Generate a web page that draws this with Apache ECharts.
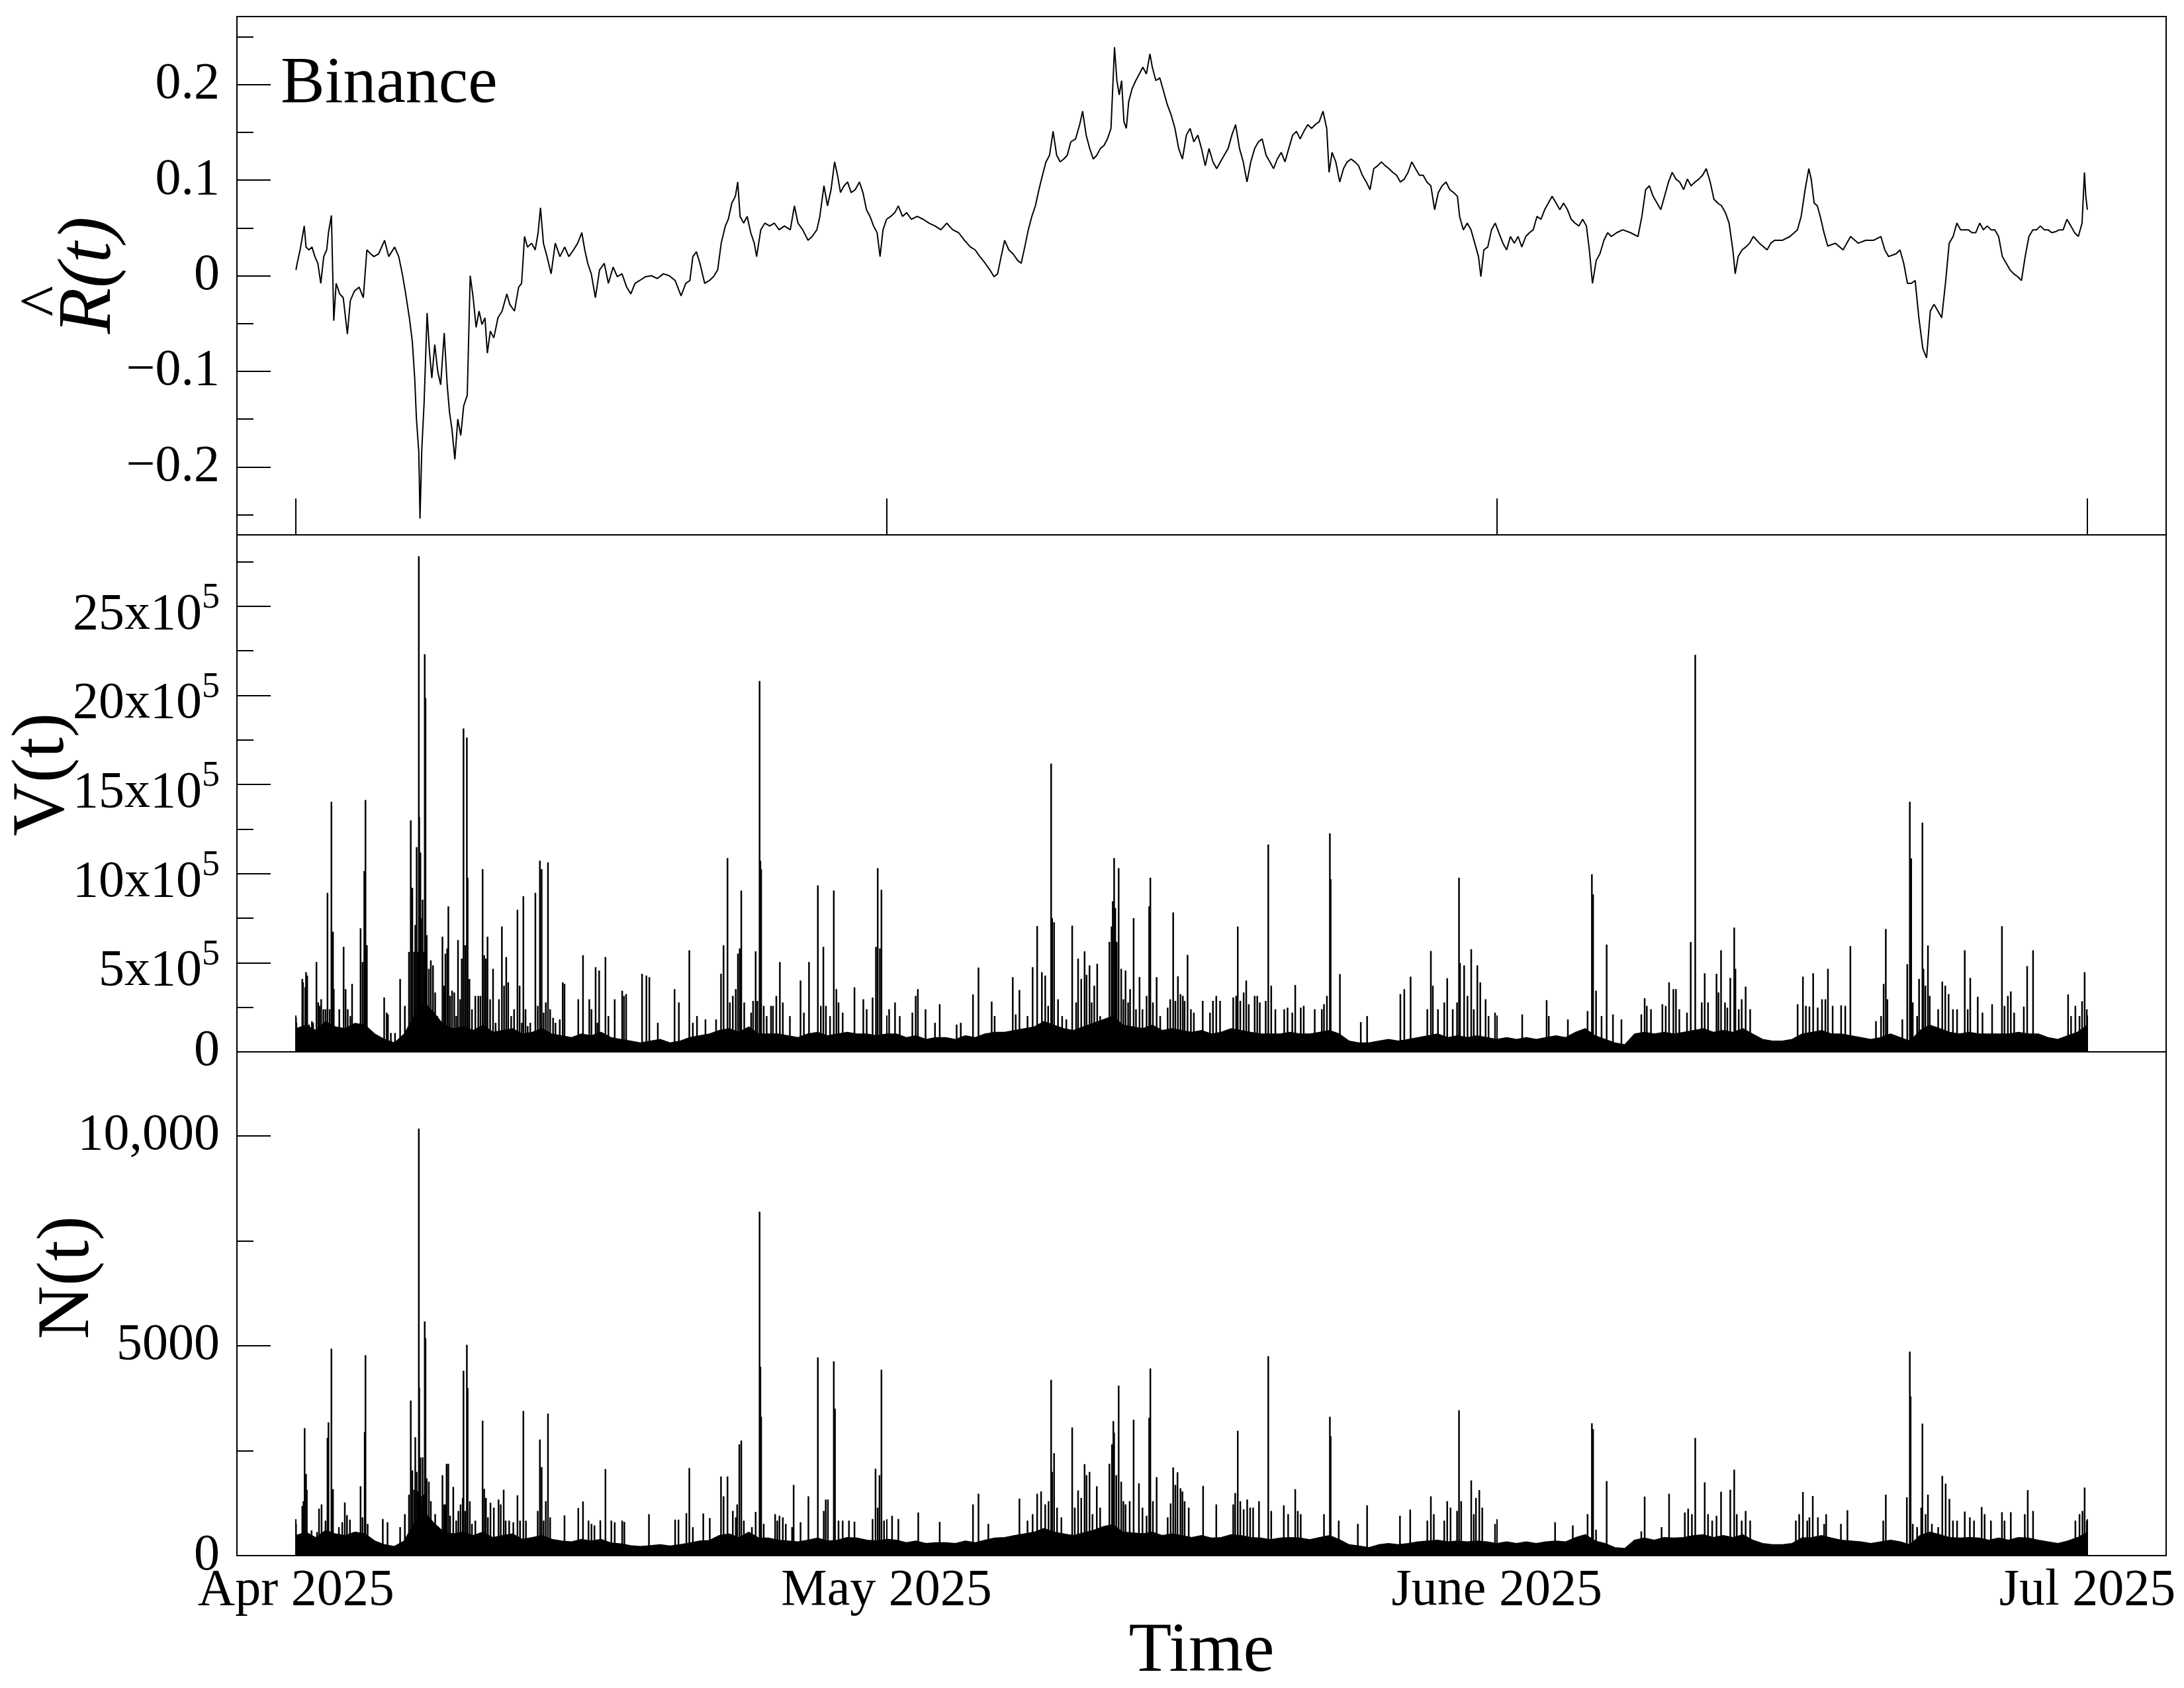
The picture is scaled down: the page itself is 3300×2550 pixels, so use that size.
<!DOCTYPE html>
<html>
<head>
<meta charset="utf-8">
<script src="https://cdn.jsdelivr.net/npm/echarts@6/dist/echarts.min.js"></script>
<style>
  html, body { margin: 0; padding: 0; background: #fff; }
  #chart { width: 3300px; height: 2550px; }
</style>
</head>
<body>
<div id="chart"></div>
<script>
// x values are days after 2025-04-01 00:00
const monthTicks = [0, 30, 61, 91];
const monthLabels = ['Apr 2025', 'May 2025', 'June 2025', 'Jul 2025'];

// R hat(t), [day, value]
const rPoints = [
[0.00,0.006],[0.06,0.013],[0.21,0.027],[0.42,0.052],[0.51,0.030],[0.66,0.027],[0.81,0.030],[0.96,0.020],[1.11,0.013],[1.26,-0.008],[1.41,0.020],[1.56,0.027],[1.65,0.045],[1.80,0.063],[1.92,-0.047],[2.04,-0.008],[2.22,-0.019],[2.40,-0.023],[2.61,-0.061],[2.76,-0.026],[2.97,-0.016],[3.21,-0.012],[3.42,-0.023],[3.60,0.027],[3.78,0.023],[3.96,0.020],[4.20,0.023],[4.50,0.037],[4.71,0.020],[5.01,0.030],[5.22,0.020],[5.40,0.002],[5.55,-0.016],[5.76,-0.044],[5.91,-0.069],[6.03,-0.107],[6.12,-0.150],[6.24,-0.185],[6.30,-0.254],[6.39,-0.182],[6.51,-0.132],[6.66,-0.039],[6.78,-0.079],[6.90,-0.107],[7.05,-0.072],[7.20,-0.100],[7.35,-0.114],[7.53,-0.060],[7.68,-0.114],[7.80,-0.143],[7.92,-0.160],[8.07,-0.192],[8.22,-0.150],[8.37,-0.167],[8.52,-0.136],[8.70,-0.125],[8.85,0.000],[9.00,-0.023],[9.15,-0.054],[9.30,-0.037],[9.45,-0.051],[9.60,-0.044],[9.72,-0.081],[9.87,-0.058],[10.05,-0.065],[10.26,-0.044],[10.47,-0.037],[10.71,-0.019],[10.86,-0.030],[11.10,-0.037],[11.31,-0.012],[11.46,-0.008],[11.61,0.041],[11.76,0.030],[11.97,0.034],[12.15,0.027],[12.30,0.045],[12.42,0.071],[12.57,0.034],[12.75,0.020],[12.96,0.002],[13.17,0.034],[13.41,0.020],[13.65,0.030],[13.86,0.020],[14.10,0.027],[14.31,0.034],[14.52,0.045],[14.67,0.027],[14.82,0.013],[15.00,0.002],[15.21,-0.023],[15.42,0.006],[15.66,0.013],[15.87,-0.008],[16.11,0.009],[16.32,-0.001],[16.56,0.002],[16.80,-0.012],[17.01,-0.019],[17.22,-0.008],[17.46,-0.005],[17.76,-0.001],[18.06,0.000],[18.36,-0.003],[18.66,0.002],[18.96,0.000],[19.26,-0.005],[19.56,-0.021],[19.80,-0.008],[20.01,-0.005],[20.16,0.020],[20.34,0.025],[20.52,0.013],[20.76,-0.008],[21.00,-0.005],[21.21,-0.001],[21.42,0.006],[21.60,0.034],[21.81,0.052],[21.96,0.059],[22.14,0.076],[22.32,0.083],[22.44,0.098],[22.56,0.062],[22.74,0.055],[22.92,0.062],[23.10,0.045],[23.28,0.034],[23.40,0.020],[23.61,0.048],[23.82,0.055],[24.06,0.052],[24.30,0.055],[24.54,0.048],[24.81,0.052],[25.11,0.048],[25.32,0.073],[25.50,0.055],[25.74,0.048],[26.01,0.037],[26.22,0.041],[26.46,0.048],[26.61,0.062],[26.82,0.094],[27.00,0.073],[27.18,0.090],[27.36,0.119],[27.51,0.105],[27.66,0.087],[27.84,0.094],[28.02,0.098],[28.20,0.087],[28.41,0.090],[28.62,0.098],[28.80,0.087],[28.98,0.069],[29.16,0.062],[29.34,0.052],[29.52,0.045],[29.67,0.020],[29.82,0.048],[30.00,0.059],[30.21,0.062],[30.42,0.066],[30.60,0.073],[30.81,0.062],[31.02,0.066],[31.26,0.059],[31.56,0.062],[31.86,0.059],[32.16,0.055],[32.46,0.052],[32.76,0.048],[33.06,0.055],[33.36,0.048],[33.66,0.045],[33.96,0.037],[34.26,0.030],[34.50,0.027],[34.74,0.020],[35.01,0.013],[35.25,0.006],[35.46,-0.001],[35.64,0.002],[35.82,0.020],[36.00,0.037],[36.21,0.027],[36.42,0.023],[36.66,0.016],[36.84,0.013],[37.02,0.030],[37.20,0.048],[37.38,0.062],[37.56,0.073],[37.74,0.090],[37.92,0.105],[38.10,0.119],[38.28,0.126],[38.46,0.151],[38.64,0.126],[38.82,0.119],[39.00,0.122],[39.18,0.126],[39.36,0.140],[39.60,0.143],[39.81,0.158],[39.96,0.172],[40.14,0.147],[40.32,0.133],[40.50,0.122],[40.68,0.126],[40.86,0.133],[41.04,0.136],[41.22,0.143],[41.40,0.154],[41.58,0.239],[41.70,0.204],[41.82,0.189],[41.94,0.204],[42.06,0.161],[42.18,0.154],[42.30,0.182],[42.48,0.196],[42.66,0.204],[42.84,0.211],[43.02,0.218],[43.20,0.211],[43.38,0.232],[43.50,0.218],[43.68,0.204],
[43.88,0.207],[44.07,0.193],[44.26,0.179],[44.46,0.168],[44.65,0.154],[44.84,0.133],[45.03,0.122],[45.23,0.147],[45.42,0.154],[45.61,0.140],[45.81,0.147],[46.00,0.133],[46.19,0.115],[46.38,0.133],[46.58,0.119],[46.77,0.112],[46.96,0.119],[47.35,0.133],[47.54,0.147],[47.73,0.158],[47.93,0.133],[48.12,0.119],[48.31,0.098],[48.50,0.119],[48.70,0.133],[48.89,0.140],[49.08,0.143],[49.28,0.126],[49.47,0.119],[49.66,0.112],[49.85,0.122],[50.05,0.129],[50.24,0.119],[50.43,0.133],[50.63,0.147],[50.82,0.151],[51.01,0.143],[51.20,0.151],[51.40,0.158],[51.59,0.154],[51.78,0.158],[51.98,0.161],[52.17,0.172],[52.36,0.154],[52.48,0.108],[52.63,0.129],[52.82,0.119],[53.02,0.098],[53.21,0.112],[53.40,0.119],[53.60,0.122],[53.79,0.119],[53.98,0.115],[54.17,0.105],[54.37,0.098],[54.56,0.090],[54.75,0.112],[54.95,0.115],[55.14,0.119],[55.33,0.115],[55.52,0.112],[55.72,0.108],[55.91,0.105],[56.10,0.098],[56.30,0.101],[56.49,0.108],[56.68,0.119],[56.87,0.112],[57.07,0.105],[57.26,0.105],[57.45,0.098],[57.65,0.094],[57.84,0.069],[58.03,0.087],[58.22,0.094],[58.42,0.098],[58.61,0.090],[58.80,0.087],[59.00,0.083],[59.11,0.062],[59.30,0.048],[59.50,0.055],[59.69,0.048],[59.88,0.034],[60.07,0.020],[60.19,-0.001],[60.34,0.027],[60.54,0.030],[60.73,0.048],[60.92,0.055],[61.12,0.044],[61.31,0.034],[61.50,0.027],[61.69,0.041],[61.89,0.034],[62.08,0.041],[62.27,0.030],[62.47,0.041],[62.66,0.045],[62.85,0.048],[63.04,0.062],[63.24,0.059],[63.43,0.069],[63.62,0.076],[63.81,0.083],[64.01,0.076],[64.20,0.069],[64.39,0.076],[64.59,0.069],[64.78,0.059],[64.97,0.055],[65.17,0.052],[65.36,0.059],[65.55,0.052],[65.70,0.027],[65.86,-0.008],[66.05,0.016],[66.24,0.023],[66.44,0.037],[66.63,0.045],[66.82,0.041],[67.09,0.045],[67.40,0.048],[67.79,0.045],[68.17,0.041],[68.37,0.062],[68.56,0.090],[68.75,0.094],[68.94,0.083],[69.14,0.076],[69.33,0.069],[69.52,0.083],[69.72,0.098],[69.91,0.108],[70.10,0.101],[70.29,0.098],[70.49,0.090],[70.68,0.101],[70.87,0.094],[71.07,0.098],[71.26,0.101],[71.45,0.105],[71.64,0.112],[71.84,0.098],[72.03,0.080],[72.22,0.076],[72.42,0.073],[72.61,0.066],[72.80,0.055],[72.99,0.027],[73.11,0.002],[73.26,0.020],[73.46,0.027],[73.65,0.030],[73.84,0.034],[74.03,0.041],[74.34,0.034],[74.73,0.027],[74.92,0.034],[75.11,0.037],[75.50,0.037],[75.89,0.041],[76.27,0.048],[76.46,0.062],[76.66,0.090],[76.85,0.112],[76.97,0.101],[77.12,0.076],[77.28,0.073],[77.43,0.062],[77.62,0.045],[77.81,0.031],[78.20,0.034],[78.59,0.027],[78.97,0.041],[79.36,0.034],[79.74,0.037],[80.13,0.037],[80.51,0.041],[80.71,0.027],[80.90,0.020],[81.29,0.023],[81.48,0.027],[81.67,0.013],[81.86,-0.008],[82.06,-0.008],[82.25,-0.005],[82.44,-0.044],[82.64,-0.076],[82.83,-0.086],[83.02,-0.037],[83.21,-0.030],[83.41,-0.037],[83.60,-0.044],[83.79,-0.008],[83.98,0.034],[84.18,0.041],[84.37,0.055],[84.56,0.048],[84.76,0.048],[84.95,0.048],[85.14,0.045],[85.33,0.045],[85.53,0.055],[85.72,0.048],[85.91,0.052],[86.11,0.048],[86.30,0.048],[86.49,0.041],[86.68,0.020],[86.88,0.013],[87.07,0.006],[87.26,0.002],[87.46,-0.001],[87.65,-0.005],[87.84,0.020],[88.03,0.041],[88.23,0.048],[88.42,0.048],[88.61,0.052],[88.81,0.048],[89.00,0.048],[89.19,0.045],[89.38,0.046],[89.58,0.048],[89.77,0.048],[89.96,0.059],[90.16,0.052],[90.35,0.045],[90.54,0.041],[90.73,0.055],[90.85,0.108],[90.92,0.083],[91.00,0.069]
];

// V(t) in units of 10^5: dense floor every 12 h from day 0, then individual spikes [day, value]
const vBand = [1.3,1.5,1.2,1.7,1.4,1.3,1.6,1.5,1.0, 0.7,0.5,1.0, 2.0,2.8,2.2,
1.5,1.3,1.4,1.2,1.5,1.1,1.2,1.3,1.0, 1.1,1.3,1.0,0.9,0.8,1.0,0.9,1.1,
0.8,0.7,0.6,0.5,0.6,0.7,0.5,0.6,0.8, 0.9,1.0,1.2,1.3,1.1,1.4,1.0,
1.0,1.0,0.9,0.8,1.0,1.1,0.9,1.0,1.1,1.0,1.0,0.9,1.0,
1.0,0.8,0.9,0.7,0.8,0.8,0.7,0.9,0.8,1.0,1.1,1.1,1.2,1.3,
1.4,1.7,1.5,1.3,1.2,1.4,1.6,1.8,2.0,1.5,1.4,1.3,1.5,1.2,1.3,1.2,
1.1,1.2,1.0,1.1,1.3,1.2,1.1,1.0,1.0,1.0,1.1,1.0,1.0,1.1,1.2,1.0,
0.6,0.5,0.5,0.6,0.7,0.6,0.7,0.8,0.9,1.0,0.8,0.9,0.8,0.9,0.8,0.7,0.8,0.7,
0.8,0.7,0.8,0.9,0.8,1.1,1.3,0.9,0.7,0.5,0.4,1.0,1.1,1.0,1.1,1.0,
1.1,1.2,1.3,1.1,1.2,1.1,1.3,1.0,0.7,0.6,0.6,0.7,1.0,1.1,1.2,1.0,
1.0,0.9,0.8,0.7,0.8,1.0,0.8,0.6,1.2,1.5,1.3,1.1,1.0,1.1,
1.0,1.0,1.0,1.0,1.1,1.0,1.0,0.8,0.7,0.9,1.1,1.5];

const vSpikes = [
[0.00,1.91],[0.02,1.63],[0.32,4.09],[0.36,3.90],[0.47,3.62],[0.51,4.47],[0.57,4.28],[0.66,1.53],[0.81,1.72],[0.87,1.63],[1.04,5.04],[1.13,2.77],[1.19,2.58],[1.28,2.95],[1.39,2.39],[1.50,2.39],[1.60,8.92],[1.71,2.39],[1.80,14.03],[1.88,6.74],[1.92,3.52],[2.03,1.34],[2.20,2.39],[2.42,5.89],[2.52,3.52],[2.63,2.39],[2.76,2.01],[2.85,3.81],[2.97,1.44],[3.28,6.93],[3.38,5.04],[3.47,10.15],[3.53,14.13],[3.60,5.98],[3.70,1.25],[3.85,1.06],[4.48,3.05],[4.61,2.20],[4.67,2.10],[4.82,1.06],[5.03,1.06],[5.29,4.09],[5.53,2.58],[5.74,5.61],[5.83,12.99],[5.91,9.20],[6.00,5.61],[6.06,7.12],[6.13,11.48],[6.17,5.61],[6.24,27.80],[6.26,13.18],[6.32,11.19],[6.36,7.50],[6.43,8.54],[6.47,5.61],[6.54,22.31],[6.58,19.85],[6.64,6.55],[6.75,4.66],[6.85,5.13],[6.96,4.85],[7.07,3.33],[7.18,2.01],[7.29,1.63],[7.44,6.46],[7.52,3.71],[7.59,5.51],[7.68,5.80],[7.74,8.16],[7.83,3.14],[7.93,3.43],[8.04,3.33],[8.14,2.01],[8.23,6.27],[8.34,2.95],[8.42,5.23],[8.51,18.14],[8.59,5.98],[8.68,17.63],[8.72,9.77],[8.81,4.09],[8.94,2.39],[9.11,3.14],[9.26,3.14],[9.37,3.14],[9.48,10.25],[9.56,5.42],[9.65,5.23],[9.73,6.46],[9.86,2.95],[10.01,4.66],[10.14,1.63],[10.31,2.95],[10.46,7.03],[10.57,3.71],[10.68,5.32],[10.78,3.90],[10.93,2.01],[11.08,2.39],[11.25,7.97],[11.36,3.71],[11.47,1.63],[11.55,8.73],[11.66,2.39],[11.77,1.44],[11.90,1.63],[12.16,8.92],[12.28,2.58],[12.39,10.72],[12.48,10.25],[12.58,2.20],[12.69,2.77],[12.80,10.63],[12.91,2.39],[13.06,1.91],[13.18,1.63],[13.40,1.82],[13.55,3.90],[13.64,3.81],[14.34,2.95],[14.58,5.42],[14.90,2.95],[15.01,2.39],[15.22,4.75],[15.31,1.63],[15.40,4.56],[15.72,5.32],[15.87,2.01],[16.19,2.95],[16.57,3.43],[16.66,3.14],[16.77,3.24],[17.58,4.38],[17.80,4.28],[17.95,4.19],[18.38,1.63],[19.23,3.52],[19.45,2.77],[19.98,5.70],[20.16,1.63],[20.37,2.01],[20.80,1.82],[21.34,1.82],[21.59,4.38],[21.72,5.98],[21.92,10.87],[22.04,2.77],[22.19,3.14],[22.34,3.52],[22.45,5.51],[22.54,5.80],[22.62,9.05],[22.77,2.77],[23.12,2.20],[23.22,2.86],[23.35,5.64],[23.44,2.86],[23.55,20.80],[23.59,10.72],[23.63,10.25],[23.76,2.58],[23.91,2.01],[24.13,2.58],[24.23,2.58],[24.40,3.14],[24.58,5.04],[24.73,2.77],[25.09,2.01],[25.63,4.00],[25.80,2.20],[26.06,5.04],[26.51,9.34],[26.66,2.58],[26.79,5.89],[26.92,2.58],[27.13,2.01],[27.32,9.05],[27.45,3.52],[27.56,2.77],[27.77,2.20],[28.37,3.62],[28.82,2.95],[28.99,2.39],[29.29,3.05],[29.46,5.89],[29.55,10.30],[29.66,5.80],[29.74,9.09],[30.13,2.39],[30.43,2.77],[30.67,2.01],[31.31,2.20],[31.48,3.14],[31.59,3.52],[31.98,2.39],
[32.46,1.63],[32.70,2.67],[33.56,1.53],[33.77,1.63],[34.39,3.22],[34.67,4.73],[35.34,2.82],[35.49,2.01],[36.41,4.19],[36.56,2.10],[36.75,3.47],[37.16,2.01],[37.42,4.75],[37.65,7.06],[37.89,4.47],[38.06,4.28],[38.21,2.58],[38.36,16.17],[38.41,7.50],[38.51,7.27],[38.71,2.95],[38.92,2.01],[39.13,1.82],[39.43,7.08],[39.63,2.77],[39.73,5.23],[39.89,4.09],[40.06,5.64],[40.16,4.32],[40.31,4.85],[40.42,2.77],[40.55,3.71],[40.70,4.94],[40.85,2.01],[41.07,1.63],[41.32,6.17],[41.43,7.03],[41.49,8.45],[41.56,10.87],[41.62,8.07],[41.69,6.17],[41.79,10.30],[41.92,4.66],[42.03,2.95],[42.14,4.56],[42.27,2.77],[42.37,3.52],[42.55,7.50],[42.67,2.39],[42.85,4.20],[43.00,2.39],[43.21,3.14],[43.34,8.16],[43.40,9.77],[43.53,2.77],[43.72,4.19],[43.90,2.01],[44.28,2.48],[44.41,2.95],[44.56,7.82],[44.67,2.86],[44.80,4.24],[44.93,3.24],[45.05,3.14],[45.14,2.86],[45.29,5.44],[45.46,2.39],[45.61,2.20],[46.06,2.86],[46.43,2.20],[46.58,2.86],[46.75,3.14],[46.94,2.86],[47.61,3.05],[47.76,3.14],[47.84,7.03],[47.97,2.86],[48.14,3.33],[48.27,4.00],[48.40,2.67],[48.70,3.14],[48.83,3.14],[48.96,2.77],[49.26,2.86],[49.39,11.63],[49.54,3.71],[49.75,2.39],[50.20,2.39],[50.37,2.48],[50.61,2.20],[50.76,3.75],[51.04,2.48],[51.19,2.58],[51.75,2.39],[52.11,2.39],[52.22,2.67],[52.37,3.14],[52.52,12.25],[52.56,9.68],[53.03,4.36],[54.09,1.67],[54.41,2.01],[56.10,3.24],[56.30,3.52],[56.62,4.22],[57.47,2.39],[57.65,5.66],[57.75,3.71],[58.01,2.39],[58.33,2.77],[58.48,4.13],[58.76,2.39],[58.98,2.77],[59.08,9.77],[59.13,4.98],[59.34,4.85],[59.51,3.14],[59.70,5.76],[59.83,2.39],[60.01,4.85],[60.16,3.90],[60.43,2.95],[60.58,2.01],[60.91,2.20],
[62.29,2.10],[63.53,2.90],[63.64,2.01],[64.61,1.82],[65.61,2.29],[65.83,9.96],[65.89,8.83],[66.04,3.43],[66.32,2.01],[66.58,6.02],[66.90,2.10],[67.33,1.82],[68.34,2.10],[68.51,3.01],[68.62,2.58],[68.83,2.39],[69.41,2.67],[69.58,2.58],[69.75,3.90],[69.97,3.52],[70.10,3.52],[70.27,2.39],[70.66,2.20],[70.85,6.16],[71.08,22.27],[71.41,2.77],[71.56,4.41],[71.73,2.77],[72.16,4.38],[72.26,3.33],[72.39,5.70],[72.59,2.77],[72.71,2.48],[72.86,4.15],[73.06,6.97],[73.12,4.66],[73.29,2.39],[73.44,2.95],[73.64,3.66],[73.87,2.39],[76.28,2.67],[76.55,4.22],[76.70,2.58],[76.88,2.54],[77.07,4.41],[77.30,2.48],[77.52,2.95],[77.69,2.95],[77.82,4.66],[78.06,2.58],[78.49,2.61],[78.70,2.58],[78.96,5.93],[80.26,1.72],[80.52,2.01],[80.65,3.81],[80.76,6.89],[80.84,2.95],[81.60,1.82],[81.85,4.92],[81.98,14.03],[82.05,10.85],[82.13,2.77],[82.35,2.01],[82.45,4.09],[82.62,12.86],[82.67,4.66],[82.77,3.71],[82.90,5.97],[82.99,3.14],[83.42,2.39],[83.63,3.94],[83.78,3.71],[83.95,3.24],[84.17,2.39],[84.38,2.39],[84.77,5.70],[84.92,2.39],[85.05,4.15],[85.43,3.09],[85.67,2.20],[86.16,2.67],[86.66,7.05],[86.79,2.58],[86.96,3.14],[87.11,3.39],[87.28,2.20],[87.77,2.54],[87.94,4.81],[88.24,5.70],[90.02,3.22],[90.17,2.01],[90.39,2.58],[90.60,2.01],[90.73,2.84],[90.86,4.47],[90.97,2.39]
];

// N(t): dense floor every 12 h from day 0, then spikes [day, count]
const nBand = [480,560,430,600,520,480,560,520,350, 260,220,350, 780,1050,780,
560,520,560,480,560,430,480,520,390, 430,480,390,350,330,390,350,390,
300,280,240,220,240,260,230,260,300, 350,360,480,520,430,560,420,
420,370,350,330,370,420,350,370,430,420,370,350,390,
370,310,350,290,310,310,290,350,310,370,420,430,480,520,
560,650,560,520,480,540,600,690,740,560,540,520,560,480,520,480,
430,480,420,430,500,480,430,420,380,420,430,420,380,430,480,380,
260,230,190,260,290,260,290,330,350,370,330,350,330,350,330,290,330,290,
330,290,330,350,330,430,500,350,290,190,170,370,420,370,430,420,
430,480,500,430,480,430,500,370,290,260,260,290,420,430,480,420,
370,350,330,290,330,370,330,260,480,560,500,430,420,430,
420,370,420,370,430,420,370,330,290,350,430,560];

const nSpikes = [
[0.00,757],[0.32,1182],[0.38,1298],[0.44,3037],[0.51,1947],[0.55,1569],[0.79,603],[1.07,564],[1.17,1121],[1.30,1221],[1.50,835],[1.60,2805],[1.65,3176],[1.80,4930],[1.88,1584],[2.18,680],[2.35,796],[2.48,1267],[2.59,966],[2.74,858],[3.28,1654],[3.38,912],[3.49,2944],[3.53,4776],[3.64,757],[4.41,873],[4.65,796],[5.29,680],[5.53,989],[5.74,1453],[5.83,3694],[5.91,2032],[6.00,1569],[6.06,2821],[6.13,1994],[6.17,1530],[6.24,10170],[6.26,4003],[6.32,2342],[6.36,1414],[6.43,2342],[6.49,1453],[6.54,5580],[6.58,5178],[6.64,1839],[6.75,1762],[6.85,1298],[7.07,989],[7.44,1917],[7.52,1221],[7.59,1221],[7.65,2187],[7.74,2187],[7.83,951],[7.99,1638],[8.14,835],[8.25,1066],[8.36,1221],[8.47,1376],[8.51,4405],[8.59,1066],[8.68,5023],[8.72,3995],[8.83,1298],[8.94,757],[9.11,835],[9.48,3215],[9.56,1592],[9.65,1376],[9.75,912],[9.88,1260],[10.05,1144],[10.29,1337],[10.40,1221],[10.55,1569],[10.65,835],[10.83,835],[11.04,796],[11.25,1437],[11.38,835],[11.55,3447],[11.68,835],[12.28,1066],[12.39,2767],[12.48,2110],[12.58,835],[12.69,1298],[12.80,3385],[12.91,912],[13.64,958],[14.34,1136],[14.58,1291],[14.86,835],[15.01,757],[15.16,719],[15.46,842],[15.72,2063],[16.02,835],[16.19,796],[16.57,835],[16.68,804],[17.93,989],[19.26,858],[19.43,858],[19.83,1012],[19.98,2087],[20.16,680],[20.69,1005],[21.02,896],[21.59,1886],[21.72,1414],[21.92,1886],[22.19,1066],[22.34,912],[22.41,1221],[22.52,2651],[22.62,2743],[22.75,835],[23.16,680],[23.35,1043],[23.55,8192],[23.59,4498],[23.63,3308],[23.76,757],[24.34,989],[24.45,835],[24.56,951],[24.73,912],[24.88,757],[25.20,680],[25.28,1685],[25.63,796],[26.03,1414],[26.51,4722],[26.81,1066],[26.91,1337],[27.02,1337],[27.32,4629],[27.38,3501],[27.56,835],[27.77,835],[28.09,835],[28.37,811],[29.29,873],[29.44,2071],[29.55,1144],[29.64,1917],[29.74,4428],[29.87,835],[30.28,951],
[30.60,873],[31.61,1028],[32.70,804],[34.39,1221],[34.67,1476],[35.17,757],[36.75,1360],[37.16,835],[37.42,989],[37.65,1476],[37.85,1530],[38.06,1221],[38.23,1298],[38.36,4189],[38.41,1994],[38.51,2442],[38.66,1144],[38.88,912],[39.43,3053],[39.56,1144],[39.73,1553],[39.89,1376],[40.06,2179],[40.16,1917],[40.31,1994],[40.46,989],[40.68,1654],[40.85,1144],[41.32,2187],[41.45,2651],[41.52,3207],[41.56,2929],[41.67,1917],[41.79,4049],[41.92,1762],[42.03,1298],[42.14,1221],[42.35,1298],[42.55,3238],[42.82,1723],[43.00,1144],[43.21,951],[43.34,3284],[43.40,4459],[43.53,1298],[43.72,1870],[44.28,912],[44.43,1244],[44.56,2102],[44.67,1685],[44.78,1986],[44.93,1607],[45.03,1530],[45.14,1298],[45.35,1144],[46.08,1662],[46.75,1221],[47.61,1221],[47.71,1492],[47.84,2975],[47.97,1298],[48.14,1105],[48.32,1337],[48.47,1144],[48.62,1144],[48.92,1298],[49.39,4753],[49.54,1066],[50.18,1198],[50.40,989],[50.76,1584],[50.89,1066],[51.04,989],[52.22,989],[52.52,3308],[52.56,2844],[52.97,835],[53.94,757],[54.41,1198],[56.08,951],[56.60,1097],[57.47,835],[57.65,1414],[57.80,989],[58.33,835],[58.48,1298],[58.65,1144],[58.98,1066],[59.08,3462],[59.19,1298],[59.70,1793],[59.83,989],[59.94,1376],[60.11,1561],[60.26,1144],[60.91,757],
[63.96,796],[64.86,719],[65.61,989],[65.83,3153],[65.89,3014],[66.04,618],[66.58,1777],[68.34,580],[68.51,1407],[69.37,680],[69.75,1476],[70.55,1028],[70.72,1121],[70.91,989],[71.08,2805],[71.56,1747],[71.73,989],[71.94,835],[72.16,951],[72.39,1522],[72.86,1569],[73.06,2048],[73.19,989],[73.44,835],[73.64,1066],[73.87,835],[76.19,835],[76.36,989],[76.55,1515],[76.77,835],[76.88,912],[77.05,1422],[77.31,912],[77.63,757],[77.73,989],[78.48,757],[78.81,1082],[80.63,835],[80.76,1453],[81.83,1391],[81.98,4861],[82.02,3794],[82.13,757],[82.35,680],[82.56,1144],[82.62,3145],[82.78,989],[82.90,1453],[83.10,757],[83.42,680],[83.63,1901],[83.80,1716],[83.99,1352],[84.17,835],[84.38,835],[84.77,1051],[85.03,912],[85.24,835],[85.63,1159],[85.78,989],[86.10,835],[86.66,1036],[86.79,835],[87.11,1036],[87.82,989],[87.97,1561],[88.24,1066],[90.39,835],[90.60,989],[90.75,1066],[90.86,1623],[90.97,835]
];

const rMajor = [-0.2, -0.1, 0, 0.1, 0.2];
const rMinor = [-0.25, -0.15, -0.05, 0.05, 0.15, 0.25];
const vMajor = [0, 5, 10, 15, 20, 25];
const vMinor = [2.5, 7.5, 12.5, 17.5, 22.5, 27.5];
const nMajor = [0, 5000, 10000];
const nMinor = [2500, 7500];

const FONT = "'Liberation Serif', 'Times New Roman', serif";

const chart = echarts.init(document.getElementById('chart'), null, { renderer: 'canvas' });

const grids = [
  { left: 358, top: 25, width: 2915, height: 783 },
  { left: 358, top: 808, width: 2915, height: 781 },
  { left: 358, top: 1589, width: 2915, height: 781 }
].map(g => Object.assign(g, { show: true, borderColor: '#000', borderWidth: 2, backgroundColor: 'transparent' }));

function xAx(i) {
  const last = i === 2;
  return {
    type: 'value', gridIndex: i, min: -3, max: 95, position: 'bottom',
    axisLine: { show: false, onZero: false }, splitLine: { show: false },
    axisTick: { show: true, inside: true, length: 55, customValues: monthTicks, lineStyle: { color: '#000', width: 2 } },
    axisLabel: {
      show: last, customValues: monthTicks, margin: 14,
      fontFamily: FONT, fontSize: 78, lineHeight: 78, color: '#000',
      formatter: v => monthLabels[monthTicks.indexOf(v)] || ''
    },
    name: last ? 'Time' : '', nameLocation: 'middle', nameGap: 52,
    nameTextStyle: { fontFamily: FONT, fontSize: 106, lineHeight: 106, color: '#000', verticalAlign: 'top' }
  };
}

function yMajor(i, min, max, vals, fmt, extraLabel) {
  return {
    type: 'value', gridIndex: i, min, max, position: 'left',
    axisLine: { show: false, onZero: false }, splitLine: { show: false },
    axisTick: { show: true, inside: true, length: 51, customValues: vals, lineStyle: { color: '#000', width: 2 } },
    axisLabel: Object.assign({
      customValues: vals, margin: 26, fontFamily: FONT, fontSize: 78, color: '#000', formatter: fmt
    }, extraLabel || {})
  };
}
function yMinor(i, min, max, vals) {
  return {
    type: 'value', gridIndex: i, min, max, position: 'left',
    axisLine: { show: false, onZero: false }, splitLine: { show: false },
    axisTick: { show: true, inside: true, length: 25, customValues: vals, lineStyle: { color: '#000', width: 2 } },
    axisLabel: { show: false }
  };
}

const rFmt = v => v === 0 ? '0' : (v < 0 ? '\u2212' : '') + Math.abs(v).toFixed(1);
const vFmt = v => v === 0 ? '0' : '{b|' + v + 'x10}{s|5}';
const nFmt = v => v === 10000 ? '10,000' : String(v);

const option = {
  animation: false,
  backgroundColor: '#fff',
  grid: grids,
  xAxis: [xAx(0), xAx(1), xAx(2)],
  yAxis: [
    yMajor(0, -0.271, 0.271, rMajor, rFmt),
    yMinor(0, -0.271, 0.271, rMinor),
    yMajor(1, 0, 29, vMajor, vFmt, {
      rich: {
        b: { fontFamily: FONT, fontSize: 78, lineHeight: 78, color: '#000', padding: [27, 0, 0, 0] },
        s: { fontFamily: FONT, fontSize: 54, lineHeight: 54, color: '#000', verticalAlign: 'top' }
      }
    }),
    yMinor(1, 0, 29, vMinor),
    yMajor(2, 0, 12000, nMajor, nFmt),
    yMinor(2, 0, 12000, nMinor)
  ],
  series: [
    {
      type: 'line', xAxisIndex: 0, yAxisIndex: 0, symbol: 'none',
      lineStyle: { color: '#000', width: 2 },
      data: rPoints
    },
    {
      type: 'line', xAxisIndex: 1, yAxisIndex: 2, symbol: 'none',
      lineStyle: { color: '#000', width: 1.5 }, areaStyle: { color: '#000', opacity: 1 },
      data: vBand.map((v, i) => [i * 0.5, v])
    },
    {
      type: 'bar', xAxisIndex: 1, yAxisIndex: 2, barWidth: 2.5,
      itemStyle: { color: '#000' },
      data: vSpikes
    },
    {
      type: 'line', xAxisIndex: 2, yAxisIndex: 4, symbol: 'none',
      lineStyle: { color: '#000', width: 1.5 }, areaStyle: { color: '#000', opacity: 1 },
      data: nBand.map((v, i) => [i * 0.5, v])
    },
    {
      type: 'bar', xAxisIndex: 2, yAxisIndex: 4, barWidth: 2.5,
      itemStyle: { color: '#000' },
      data: nSpikes
    }
  ],
  graphic: [
    { type: 'text', left: 424, top: 78, style: { text: 'Binance', fontFamily: FONT, fontSize: 100, fill: '#000' } },
    { type: 'text', x: 136, y: 416, rotation: Math.PI / 2,
      style: { text: 'R(t)', fontFamily: FONT, fontStyle: 'italic', fontSize: 114, fill: '#000', align: 'center', verticalAlign: 'middle' } },
    { type: 'text', x: 72, y: 455, rotation: Math.PI / 2,
      style: { text: '^', fontFamily: FONT, fontSize: 100, fill: '#000', align: 'center', verticalAlign: 'middle' } },
    { type: 'text', x: 66, y: 1170, rotation: Math.PI / 2,
      style: { text: 'V(t)', fontFamily: FONT, fontSize: 112, fill: '#000', align: 'center', verticalAlign: 'middle' } },
    { type: 'text', x: 104, y: 1930, rotation: Math.PI / 2,
      style: { text: 'N(t)', fontFamily: FONT, fontSize: 112, fill: '#000', align: 'center', verticalAlign: 'middle' } }
  ]
};

chart.setOption(option);
</script>
</body>
</html>
